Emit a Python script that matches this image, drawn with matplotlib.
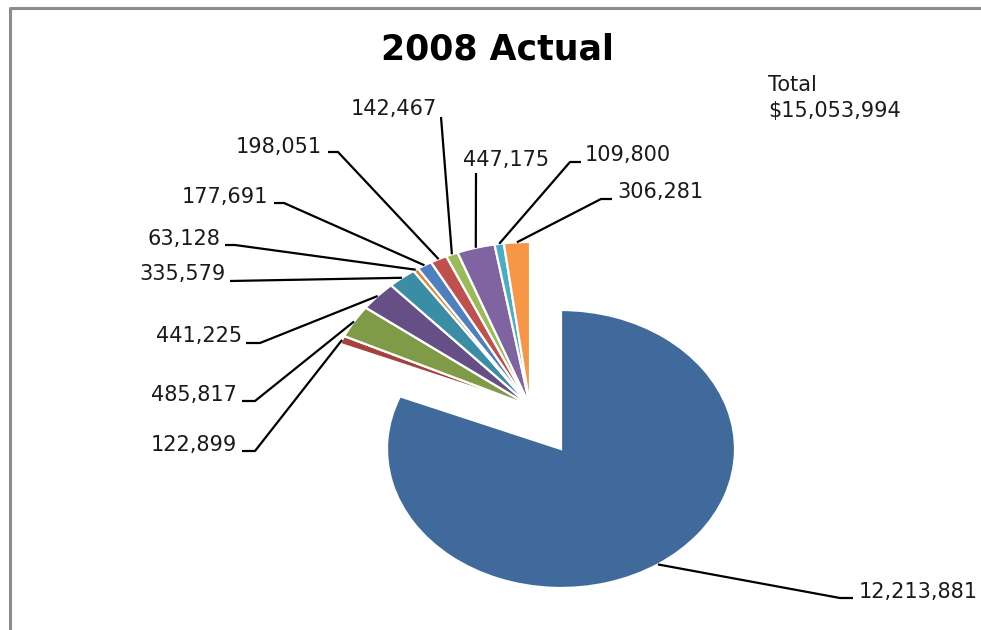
import numpy as np
import matplotlib
matplotlib.use("Agg")
import matplotlib.pyplot as plt

# data (clockwise from 12 o'clock)
title = "2008 Actual"
total_text = "Total\n$15,053,994"
values = [12213881, 122899, 485817, 441225, 335579, 63128,
          177691, 198051, 142467, 447175, 109800, 306281]
labels = [f"{v:,}" for v in values]
colors = ["#3F6A9B", "#A5413F", "#7F9B48", "#664E87", "#3A8DA4", "#D9822F",
          "#4E80BF", "#C0504D", "#9BBB59", "#8064A2", "#4BACC6", "#F79646"]

# layout in picture pixels (origin top-left)
W, H = 981, 630
CX, CY = 561, 449      # centre of the big slice
RX, RY = 174, 139      # pixels per radius unit (the pie is stretched)


def px(x, y):
    return (x - CX) / RX, (CY - y) / RY


# text position, alignment, leader points from the text towards the slice
label_layout = [
    ((859, 592), 'left', [(853, 598), (840, 598)]),
    ((237, 445), 'right', [(242, 451), (255, 451)]),
    ((237, 395), 'right', [(242, 401), (255, 401)]),
    ((242, 336), 'right', [(246, 343), (260, 343)]),
    ((226, 274), 'right', [(230, 281)]),
    ((220, 239), 'right', [(225, 245), (235, 245)]),
    ((268, 197), 'right', [(274, 203), (284, 203)]),
    ((322, 147), 'right', [(328, 152), (338, 152)]),
    ((437, 109), 'right', [(441, 117)]),
    ((506, 160), 'center', [(476, 173)]),
    ((585, 155), 'left', [(581, 162), (570, 162)]),
    ((617, 192), 'left', [(612, 199), (601, 199)]),
]

fig = plt.figure(figsize=(9.81, 6.3), dpi=100)
ax = fig.add_axes([0, 0, 1, 1])

wedge_kw = dict(edgecolor='white', linewidth=1.6)

# the fan of small slices keeps its own centre, the big slice is pulled out
fan, _ = ax.pie(values, colors=colors, startangle=90, counterclock=False,
                center=px(530, 406), radius=1.18, wedgeprops=wedge_kw)
fan[0].set_visible(False)
big, _ = ax.pie(values, colors=colors, startangle=90, counterclock=False,
                center=(0, 0), radius=1.0, wedgeprops=wedge_kw)
for w in big[1:]:
    w.set_visible(False)

wedges = [big[0]] + list(fan[1:])
for w, text, (tpos, ha, pts) in zip(wedges, labels, label_layout):
    mid = np.deg2rad((w.theta1 + w.theta2) / 2)
    end = (w.center[0] + w.r * np.cos(mid), w.center[1] + w.r * np.sin(mid))
    path = [px(*p) for p in pts] + [end]
    ax.plot([p[0] for p in path], [p[1] for p in path], color='black', lw=1.6,
            solid_capstyle='butt', zorder=3)
    tx, ty = px(*tpos)
    ax.text(tx, ty, text, ha=ha, va='center', fontsize=15, color='#1a1a1a')

tx, ty = px(497, 49)
ax.text(tx, ty, title, ha='center', va='center', fontsize=25, fontweight='bold')
tx, ty = px(768, 98)
ax.text(tx, ty, total_text, ha='left', va='center', fontsize=15,
        linespacing=1.4, color='#1a1a1a')

# chart border (only left and top edges show in the crop)
bx = [px(10, H)[0], px(10, 8)[0], px(W, 8)[0]]
by = [px(10, H)[1], px(10, 8)[1], px(W, 8)[1]]
ax.plot(bx, by, color='#8c8c8c', lw=2.2)

ax.set_aspect('auto')
ax.set_xlim(px(0, 0)[0], px(W, 0)[0])
ax.set_ylim(px(0, H)[1], px(0, 0)[1])
ax.axis('off')

fig.savefig("out.png", dpi=100)
